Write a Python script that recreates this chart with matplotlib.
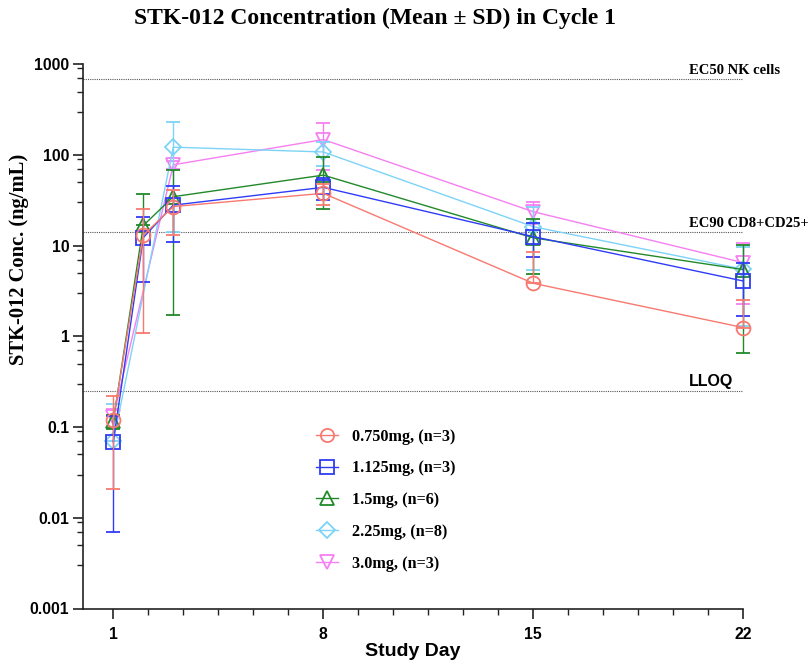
import numpy as np
import matplotlib
matplotlib.use("Agg")
import matplotlib.pyplot as plt
from matplotlib.lines import Line2D

# ---------------- data ----------------
days_a = [1, 2, 3, 8, 15, 22]
days_b = [1, 3, 8, 15, 22]

series_labels = ["0.750mg, (n=3)", "1.125mg, (n=3)", "1.5mg, (n=6)",
                 "2.25mg, (n=8)", "3.0mg, (n=3)"]

mean_0750 = [0.12, 13.1, 27.0, 37.8, 3.85, 1.25]
sd_0750 = [0.099, 12.0, 14.0, 10.0, 4.75, 1.27]
mean_1125 = [0.069, 12.3, 28.0, 44.0, 12.6, 4.08]
sd_1125 = [0.062, 8.3, 17.0, 12.0, 5.1, 2.4]
mean_1500 = [0.116, 16.7, 34.7, 60.0, 12.2, 5.45]
sd_1500 = [0.02, 20.5, 33.0, 34.6, 7.3, 4.8]
mean_2250 = [0.07, 122.0, 108.0, 16.2, 5.5]
sd_2250 = [0.11, 108.0, 32.0, 10.8, 4.2]
mean_3000 = [0.13, 78.0, 148.0, 23.7, 6.5]
sd_3000 = [0.03, 8.0, 80.0, 6.5, 4.2]

ref_values = [680.0, 14.0, 0.25]
ref_labels = ["EC50 NK cells", "EC90 CD8+CD25+", "LLOQ"]

y_ticks = [0.001, 0.01, 0.1, 1, 10, 100, 1000]
y_tick_labels = ["0.001", "0.01", "0.1", "1", "10", "100", "1000"]
x_ticks = [1, 8, 15, 22]
x_tick_labels = ["1", "8", "15", "22"]

# ---------------- style ----------------
colors = ["#F8796F", "#2F3CF5", "#22892A", "#7DD3F7", "#F67FF2"]
markers = ["o", "s", "^", "D", "v"]
msizes = [10, 10, 10, 8.5, 10]
SERIF = "Liberation Serif"
SANS = "Liberation Sans"

fig = plt.figure(figsize=(8.1, 6.63), dpi=100)
W, H = 810, 663
x0, x1, ytop, ybot = 83.3, 743.3, 64.3, 608.5
ax = fig.add_axes([x0 / W, 1 - ybot / H, (x1 - x0) / W, (ybot - ytop) / H])
ax.set_yscale("log")
ax.set_xlim(0, 22)
ax.set_ylim(0.001, 1000)

all_days = [days_a, days_a, days_a, days_b, days_b]
all_mean = [mean_0750, mean_1125, mean_1500, mean_2250, mean_3000]
all_sd = [sd_0750, sd_1125, sd_1500, sd_2250, sd_3000]

for i in reversed(range(5)):
    d = np.array(all_days[i], float)
    m = np.array(all_mean[i], float)
    s = np.array(all_sd[i], float)
    lower = np.where(m - s > 0, s, 0.0)
    cont = ax.errorbar(d, m, yerr=[lower, s], color=colors[i], marker=markers[i],
                       ms=msizes[i], mfc="none", mec=colors[i], mew=1.3, lw=1.0,
                       elinewidth=1.0, capsize=4.7, capthick=1.0,
                       zorder=3 + (5 - i))
    for art in cont.get_children():
        art.set_clip_on(False)

for v, lab in zip(ref_values, ref_labels):
    ax.plot([0, 21.95], [v, v], ls=(0, (1, 1)), color="#555555", lw=0.8, zorder=2)
    if lab == "LLOQ":
        ax.text(20.2, v * 1.06, lab, family=SANS, fontweight="bold",
                fontsize=11.5, ha="left", va="bottom")
    else:
        ax.text(20.2, v * 1.06, lab, family=SERIF, fontweight="bold",
                fontsize=10.5, ha="left", va="bottom")

# axes styling
for sp in ["top", "right"]:
    ax.spines[sp].set_visible(False)
for sp in ["left", "bottom"]:
    ax.spines[sp].set_linewidth(1.2)
    ax.spines[sp].set_color("#222222")

ax.set_yticks(y_ticks)
ax.set_yticklabels(y_tick_labels)
minor_y = []
for dec in [0.001, 0.01, 0.1, 1, 10, 100]:
    for k in [3, 5, 7, 9]:
        minor_y.append(dec * k)
ax.set_yticks(minor_y, minor=True)
ax.set_yticklabels([], minor=True)

ax.set_xticks(x_ticks)
ax.set_xticklabels(x_tick_labels)
minor_x = []
for start in [1, 8, 15]:
    for k in range(1, 6):
        minor_x.append(start + k * 7 / 6)
ax.set_xticks(minor_x, minor=True)

ax.tick_params(which="major", length=7, width=1.2, color="#222222", pad=3)
ax.tick_params(which="minor", length=4, width=1.0, color="#222222")
ax.tick_params(axis="x", which="major", pad=6)
for lab in ax.get_xticklabels() + ax.get_yticklabels():
    lab.set_family(SANS)
    lab.set_fontweight("bold")
    lab.set_fontsize(11.3)

fig.text(413 / W, 1 - 651 / H, "Study Day", family=SANS, fontweight="bold",
         fontsize=14, ha="center", va="center")
fig.text(19 / W, 1 - 259 / H, "STK-012 Conc. (ng/mL)", family=SERIF,
         fontweight="bold", fontsize=14.8, rotation=90, ha="center", va="center")
fig.text(375 / W, 1 - 18 / H, "STK-012 Concentration (Mean \u00b1 SD) in Cycle 1",
         family=SERIF, fontweight="bold", fontsize=17, ha="center", va="center")

handles = [Line2D([], [], color=colors[i], marker=markers[i], ms=msizes[i] * 0.95,
                  mfc="none", mec=colors[i], mew=1.3, lw=1.0) for i in range(5)]
leg = ax.legend(handles, series_labels, loc="upper left",
                bbox_to_anchor=(301 / W, 1 - 414 / H), bbox_transform=fig.transFigure,
                frameon=False, prop={"family": SERIF, "weight": "bold", "size": 11.7},
                handlelength=1.4, handletextpad=0.85, labelspacing=0.97)

fig.savefig("out.png", dpi=100)
